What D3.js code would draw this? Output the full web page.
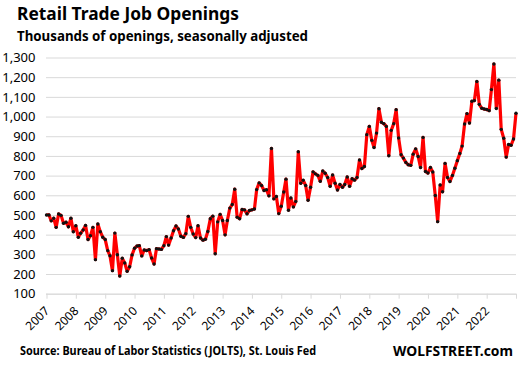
<!DOCTYPE html>
<html>
<head>
<meta charset="utf-8">
<script src="https://cdn.jsdelivr.net/npm/d3@7"></script>
<style>
    body { margin: 0; background: #fff; }
    text { font-family: "Noto Sans", "Open Sans", sans-serif; }
</style>
</head>
<body>
<div id="chart"></div>
<script>
// monthly retail job openings (thousands), Jan 2007 - Jan 2023
const years = [2007, 2008, 2009, 2010, 2011, 2012, 2013, 2014, 2015,
    2016, 2017, 2018, 2019, 2020, 2021, 2022, 2023];
const openings = [
    [500, 500, 470, 483, 437, 505, 498, 458, 463, 440, 483, 415],
    [445, 387, 407, 424, 447, 375, 395, 437, 273, 454, 415, 387],
    [375, 319, 293, 217, 408, 298, 190, 280, 256, 214, 237, 297],
    [331, 342, 344, 292, 322, 319, 324, 281, 251, 329, 327, 325],
    [344, 390, 347, 383, 420, 444, 429, 392, 386, 405, 493, 437],
    [403, 385, 445, 383, 372, 377, 416, 481, 494, 303, 465, 503],
    [472, 399, 472, 535, 553, 631, 489, 481, 528, 526, 506, 523],
    [526, 530, 629, 663, 650, 624, 628, 597, 838, 582, 594, 507],
    [544, 617, 682, 524, 586, 541, 569, 821, 661, 676, 650, 575],
    [641, 719, 709, 701, 671, 723, 712, 690, 646, 703, 661, 627],
    [655, 641, 655, 693, 646, 684, 677, 690, 779, 736, 746, 908],
    [950, 879, 843, 916, 1040, 971, 964, 950, 801, 930, 964, 1035],
    [891, 806, 789, 767, 755, 752, 809, 836, 797, 741, 894, 721],
    [713, 741, 718, 599, 466, 652, 618, 762, 690, 670, 701, 737],
    [776, 812, 850, 962, 1015, 967, 1078, 1081, 1178, 1062, 1042, 1038],
    [1036, 1030, 1137, 1267, 1041, 1185, 935, 890, 794, 858, 854, 886],
    [1017]
];
const yTicks = [100, 200, 300, 400, 500, 600, 700, 800, 900, 1000, 1100, 1200, 1300];

document.addEventListener("DOMContentLoaded", function () {
    const width = 525, height = 365;

    const data = [];
    openings.forEach((row, i) => {
        row.forEach((v, m) => data.push({ date: new Date(years[i], m, 1), value: v }));
    });

    const svg = d3.select("#chart")
        .append("svg")
        .attr("width", width)
        .attr("height", height);

    const x = d3.scaleTime()
        .domain([new Date(2007, 0, 1), new Date(2023, 0, 1)])
        .range([46.5, 516]);

    const y = d3.scaleLinear()
        .domain([100, 1300])
        .range([293.7, 57.5]);

    // gridlines
    svg.append("g")
        .attr("transform", "translate(46,0)")
        .call(d3.axisLeft(y).tickValues(yTicks).tickSize(-470).tickFormat(""))
        .call(g => g.select(".domain").remove())
        .call(g => g.selectAll("line").attr("stroke", "#d9d9d9"));

    // y labels
    svg.append("g")
        .attr("transform", "translate(35.5,0)")
        .call(d3.axisLeft(y).tickValues(yTicks).tickSize(0).tickPadding(0).tickFormat(d3.format(",")))
        .call(g => g.select(".domain").remove())
        .call(g => g.selectAll("text")
            .attr("font-size", 13)
            .attr("fill", "#000")
            .style("font-family", "'Noto Sans', sans-serif"));

    // x axis
    svg.append("g")
        .attr("transform", "translate(0,293.7)")
        .call(d3.axisBottom(x)
            .ticks(d3.timeYear.every(1))
            .tickSize(5)
            .tickFormat(d => d.getFullYear() < 2023 ? d3.timeFormat("%Y")(d) : ""))
        .call(g => g.select(".domain").attr("stroke", "#d9d9d9").attr("d", "M46,0.5H516"))
        .call(g => g.selectAll("line").attr("stroke", "#d9d9d9"))
        .call(g => g.selectAll("text")
            .attr("font-size", 12)
            .attr("fill", "#000")
            .style("font-family", "'Noto Sans', sans-serif")
            .attr("text-anchor", "end")
            .attr("dy", null)
            .attr("y", 0)
            .attr("transform", "translate(3,18) rotate(-45)"));

    const line = d3.line()
        .x(d => x(d.date))
        .y(d => y(d.value));

    svg.append("path")
        .datum(data)
        .attr("fill", "none")
        .attr("stroke", "#ff0000")
        .attr("stroke-width", 3.2)
        .attr("stroke-linejoin", "round")
        .attr("d", line);

    svg.append("g")
        .selectAll("circle")
        .data(data)
        .join("circle")
        .attr("cx", d => x(d.date))
        .attr("cy", d => y(d.value))
        .attr("r", 1.7)
        .attr("fill", "#111");

    svg.append("text")
        .attr("x", 17)
        .attr("y", 20)
        .attr("font-size", 17)
        .attr("font-weight", "bold")
        .attr("textLength", 222)
        .attr("lengthAdjust", "spacingAndGlyphs")
        .text("Retail Trade Job Openings");

    svg.append("text")
        .attr("x", 17)
        .attr("y", 41)
        .attr("font-size", 13.5)
        .attr("font-weight", "bold")
        .attr("textLength", 291)
        .attr("lengthAdjust", "spacingAndGlyphs")
        .text("Thousands of openings, seasonally adjusted");

    svg.append("text")
        .attr("x", 20)
        .attr("y", 355)
        .attr("font-size", 11.5)
        .attr("font-weight", "bold")
        .attr("textLength", 296)
        .attr("lengthAdjust", "spacingAndGlyphs")
        .text("Source: Bureau of Labor Statistics (JOLTS), St. Louis Fed");

    svg.append("text")
        .attr("x", 393)
        .attr("y", 356)
        .attr("font-size", 15)
        .attr("font-weight", "bold")
        .attr("textLength", 120)
        .attr("lengthAdjust", "spacingAndGlyphs")
        .text("WOLFSTREET.com");
});
</script>
</body>
</html>
